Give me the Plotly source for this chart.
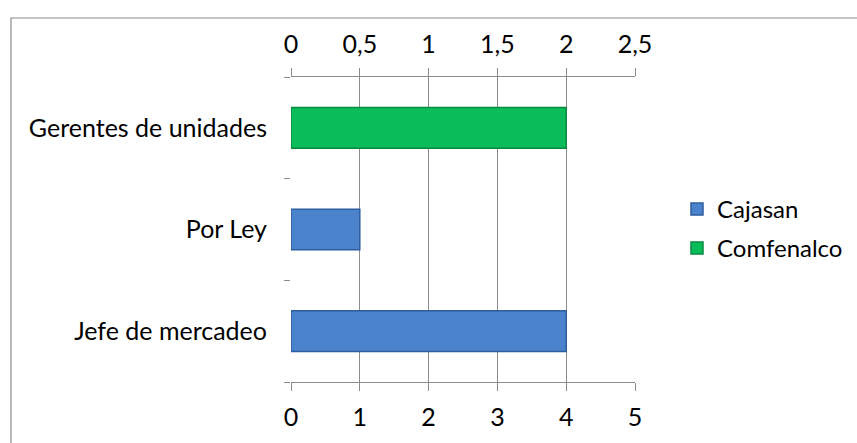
import plotly.graph_objects as go

categories = ["Jefe de mercadeo", "Por Ley", "Gerentes de unidades"]
cajasan_cats = ["Jefe de mercadeo", "Por Ley"]
cajasan_vals = [4, 1]
comf_cats = ["Gerentes de unidades"]
comf_vals = [2]
bottom_ticks = [0, 1, 2, 3, 4, 5]
top_ticks = [0, 0.5, 1, 1.5, 2, 2.5]
top_labels = ["0", "0,5", "1", "1,5", "2", "2,5"]

FONT = "Lato"
FS = 25
fig = go.Figure()
fig.add_trace(go.Bar(
    y=cajasan_cats, x=cajasan_vals, orientation="h", name="Cajasan",
    marker=dict(color="#4A83CC", line=dict(color="#2F5E9E", width=1.5)),
    width=0.4, xaxis="x", yaxis="y", legend="legend"))
fig.add_trace(go.Bar(
    y=comf_cats, x=comf_vals, orientation="h", name="Comfenalco",
    marker=dict(color="#0ABD5A", line=dict(color="#078A40", width=1.5)),
    width=0.4, xaxis="x2", yaxis="y", legend="legend2"))

axis_common = dict(showline=True, linecolor="#8C8C8C", linewidth=1.2,
                   ticks="outside", ticklen=8, tickcolor="#8C8C8C",
                   tickfont=dict(family=FONT, size=FS, color="#000"),
                   ticklabelstandoff=5, zeroline=False)
fig.update_layout(
    width=857, height=443,
    margin=dict(l=291, r=222, t=77, b=61, autoexpand=False),
    paper_bgcolor="white", plot_bgcolor="white",
    barmode="overlay",
    font=dict(family=FONT, size=FS, color="#000"),
    xaxis=dict(range=[0, 5], tickvals=bottom_ticks, showgrid=True,
               gridcolor="#8C8C8C", gridwidth=1.2, automargin=False, **axis_common),
    xaxis2=dict(range=[0, 2.5], tickvals=top_ticks, ticktext=top_labels,
                overlaying="x", side="top", showgrid=False, automargin=False,
                **axis_common),
    yaxis=dict(categoryorder="array", categoryarray=categories,
               tickson="boundaries", ticks="outside", ticklen=6,
               tickcolor="#8C8C8C", tickwidth=1.2, showline=False, showgrid=False,
               ticklabelstandoff=23, automargin=False,
               tickfont=dict(family=FONT, size=FS, color="#000")),
    legend=dict(x=(677 - 291) / 344, y=0.5 + 20 / 305, xanchor="left", yanchor="middle",
                font=dict(family=FONT, size=24), bgcolor="rgba(0,0,0,0)"),
    legend2=dict(x=(677 - 291) / 344, y=0.5 - 19 / 305, xanchor="left", yanchor="middle",
                 font=dict(family=FONT, size=24), bgcolor="rgba(0,0,0,0)"),
    showlegend=True,
    shapes=[dict(type="rect", xref="paper", yref="paper",
                 x0=(11 - 291) / 344, x1=(870 - 291) / 344,
                 y0=(382 - 460) / 305, y1=(382 - 18) / 305,
                 line=dict(color="#8C8C8C", width=1.2), fillcolor="rgba(0,0,0,0)",
                 layer="below")],
)
fig.write_html("out.html")
